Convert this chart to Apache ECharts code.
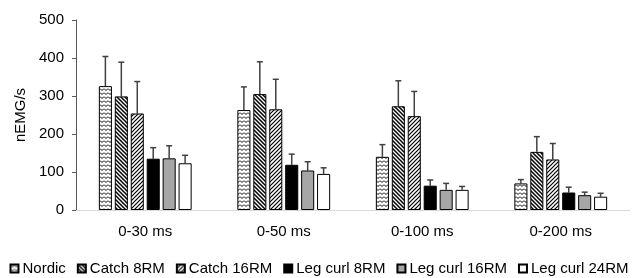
<!DOCTYPE html>
<html>
<head>
<meta charset="utf-8">
<script src="https://cdn.jsdelivr.net/npm/echarts@6/dist/echarts.min.js"></script>
<style>
  html, body { margin: 0; padding: 0; background: #fff; }
  #chart { width: 638px; height: 278px; }
</style>
</head>
<body>
<div id="chart"></div>
<script>
// data
var categories = ['0-30 ms', '0-50 ms', '0-100 ms', '0-200 ms'];
var seriesNames = ['Nordic', 'Catch 8RM', 'Catch 16RM', 'Leg curl 8RM', 'Leg curl 16RM', 'Leg curl 24RM'];
var nordic = [326, 263, 140, 70];
var catch8 = [299, 305, 273, 153];
var catch16 = [254, 265, 247, 133];
var legCurl8 = [135, 119, 64, 46];
var legCurl16 = [136, 104, 53, 39];
var legCurl24 = [123, 95, 53, 35];
// top of error bar (mean + sd)
var nordicErr = [404, 324, 172, 80];
var catch8Err = [389, 390, 340, 193];
var catch16Err = [338, 344, 312, 175];
var legCurl8Err = [164, 147, 79, 60];
var legCurl16Err = [169, 127, 70, 47];
var legCurl24Err = [144, 111, 62, 44];
var yTicks = [0, 100, 200, 300, 400, 500];

var values = [nordic, catch8, catch16, legCurl8, legCurl16, legCurl24];
var errTops = [nordicErr, catch8Err, catch16Err, legCurl8Err, legCurl16Err, legCurl24Err];

// hatch fills
function makePattern(kind) {
    var c = document.createElement('canvas');
    var s = 4;
    c.width = s; c.height = s;
    var ctx = c.getContext('2d');
    ctx.fillStyle = '#fff';
    ctx.fillRect(0, 0, s, s);
    ctx.strokeStyle = '#000';
    ctx.lineWidth = 1;
    ctx.beginPath();
    if (kind === 'wave') {
        ctx.moveTo(0, 0.5); ctx.lineTo(2, 2.5); ctx.lineTo(4, 0.5);
    } else if (kind === 'back') {
        ctx.lineWidth = 1.5;
        ctx.moveTo(-1, -1); ctx.lineTo(s + 1, s + 1);
        ctx.moveTo(-1, s - 1); ctx.lineTo(1, s + 1);
        ctx.moveTo(s - 1, -1); ctx.lineTo(s + 1, 1);
    } else {
        ctx.lineWidth = 1.2;
        ctx.moveTo(-1, s + 1); ctx.lineTo(s + 1, -1);
        ctx.moveTo(-1, 1); ctx.lineTo(1, -1);
        ctx.moveTo(s - 1, s + 1); ctx.lineTo(s + 1, s - 1);
    }
    ctx.stroke();
    return { image: c, repeat: 'repeat' };
}

var fills = [
    makePattern('wave'),
    makePattern('back'),
    makePattern('fwd'),
    '#000000',
    '#a6a6a6',
    '#ffffff'
];

var barGap = '22%';
var barCategoryGap = '33%';

var series = [];
seriesNames.forEach(function (name, i) {
    series.push({
        name: name,
        type: 'bar',
        data: values[i],
        barGap: barGap,
        barCategoryGap: barCategoryGap,
        itemStyle: { color: fills[i], borderColor: '#000', borderWidth: 1 }
    });
});

// error bars as one custom series per bar series
seriesNames.forEach(function (name, i) {
    series.push({
        type: 'custom',
        name: name + ' sd',
        z: 1,
        data: values[i].map(function (v, k) { return [k, v, errTops[i][k]]; }),
        renderItem: function (params, api) {
            var layout = api.barLayout({ barGap: barGap, barCategoryGap: barCategoryGap, count: 6 });
            var off = layout[i].offsetCenter;
            var base = api.coord([api.value(0), api.value(1)]);
            var top = api.coord([api.value(0), api.value(2)]);
            var x = base[0] + off;
            var style = { stroke: '#404040', lineWidth: 1.5 };
            return {
                type: 'group',
                children: [
                    { type: 'line', shape: { x1: x, y1: base[1], x2: x, y2: top[1] }, style: style },
                    { type: 'line', shape: { x1: x - 3, y1: top[1], x2: x + 3, y2: top[1] }, style: style }
                ]
            };
        }
    });
});

var chart = echarts.init(document.getElementById('chart'));
chart.setOption({
    animation: false,
    textStyle: { fontFamily: 'Liberation Sans, Arial, sans-serif' },
    grid: { left: 76, right: 8, top: 20, bottom: 68 },
    legend: {
        top: 256,
        left: 'center',
        data: seriesNames,
        itemWidth: 8,
        itemHeight: 8,
        itemGap: 11,
        icon: 'rect',
        textStyle: { fontSize: 15, color: '#000', padding: [0, 0, 0, -1] }
    },
    xAxis: {
        type: 'category',
        data: categories,
        axisLine: { lineStyle: { color: '#d9d9d9', width: 1 } },
        axisTick: { show: false },
        axisLabel: { fontSize: 15, color: '#000', margin: 14 }
    },
    yAxis: {
        type: 'value',
        min: yTicks[0],
        max: yTicks[yTicks.length - 1],
        interval: 100,
        name: 'nEMG/s',
        nameLocation: 'middle',
        nameGap: 44,
        nameTextStyle: { fontSize: 15, color: '#000' },
        axisLine: { show: true, lineStyle: { color: '#595959' } },
        axisTick: { show: true, length: 4, lineStyle: { color: '#595959' } },
        axisLabel: { fontSize: 15, color: '#000', margin: 12 },
        splitLine: { show: false }
    },
    series: series
});
</script>
</body>
</html>
